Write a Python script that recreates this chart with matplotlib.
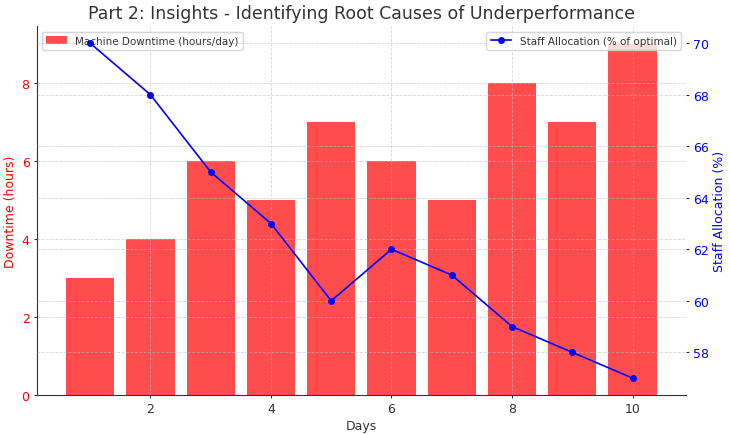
import matplotlib
matplotlib.use("Agg")
import matplotlib.pyplot as plt

days = [1, 2, 3, 4, 5, 6, 7, 8, 9, 10]
downtime = [3, 4, 6, 5, 7, 6, 5, 8, 7, 9]
staff = [70, 68, 65, 63, 60, 62, 61, 59, 58, 57]

plt.rcParams['text.color'] = '#333333'
plt.rcParams['axes.labelcolor'] = '#333333'
plt.rcParams['xtick.color'] = '#333333'
plt.rcParams['ytick.color'] = '#333333'

fig, ax1 = plt.subplots(figsize=(7.3, 4.35), dpi=100)

# barras de downtime
ax1.bar(days, downtime, color='red', alpha=0.7, label='Machine Downtime (hours/day)')
ax1.set_xlabel('Days', fontsize=9, labelpad=3)
ax1.set_ylabel('Downtime (hours)', color='red', fontsize=9, labelpad=3)
ax1.tick_params(axis='y', labelcolor='red', labelsize=9, length=2.5, pad=2.5)
ax1.tick_params(axis='x', labelsize=9, length=2.5, pad=2.5)
ax1.grid(True, linestyle='--', linewidth=0.6, color='#bbbbbb', alpha=0.6)
for s in ['top', 'right']:
    ax1.spines[s].set_visible(False)
ax1.spines['left'].set_color('#333333')
ax1.spines['bottom'].set_color('#333333')

# linea de staff
ax2 = ax1.twinx()
ax2.plot(days, staff, color='blue', marker='o', markersize=4, linewidth=1.2,
         label='Staff Allocation (% of optimal)')
ax2.set_ylabel('Staff Allocation (%)', color='blue', fontsize=9, labelpad=3)
ax2.tick_params(axis='y', labelcolor='blue', labelsize=9, length=2.5, pad=2.5)
ax2.grid(True, linestyle='--', linewidth=0.6, color='#bbbbbb', alpha=0.6)
for s in ['top', 'right', 'left', 'bottom']:
    ax2.spines[s].set_visible(False)

ax1.set_title('Part 2: Insights - Identifying Root Causes of Underperformance', fontsize=12.5)
ax1.legend(loc='upper left', fontsize=7.5)
ax2.legend(loc='upper right', fontsize=7.5)

fig.subplots_adjust(left=0.05, right=0.94, top=0.937, bottom=0.09)
fig.savefig('out.png')
